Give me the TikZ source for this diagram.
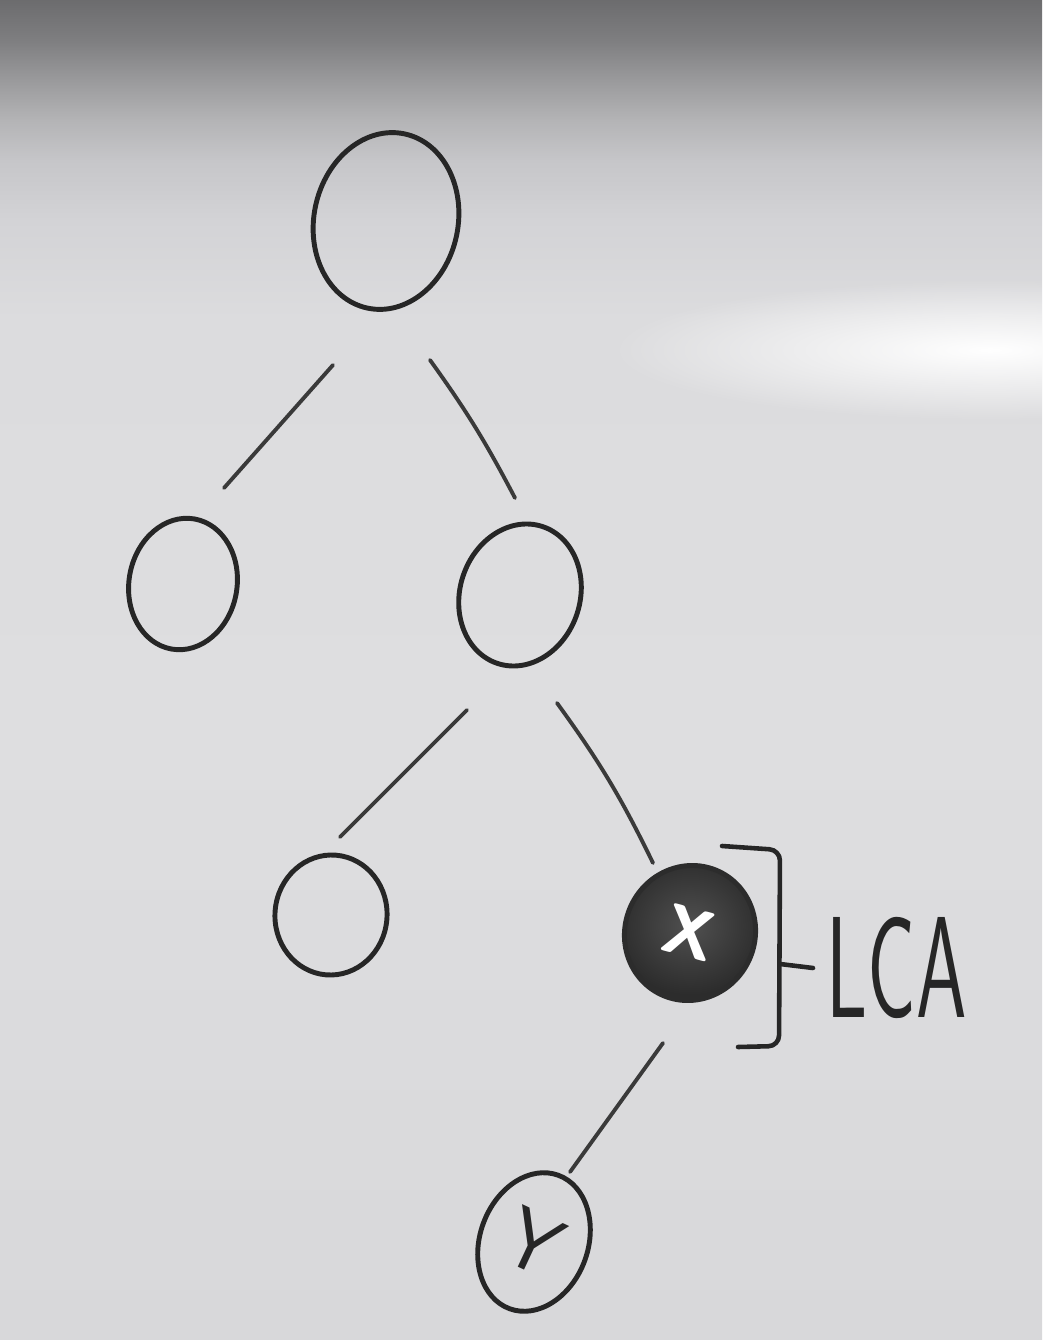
\documentclass[tikz,border=0pt]{standalone}
\usepackage{fontspec}
\usetikzlibrary{shapes.geometric,calc,fadings}
\definecolor{ink}{HTML}{262626}
\definecolor{inkl}{HTML}{3A3A3A}
\definecolor{g0}{HTML}{6C6C6E}
\definecolor{g1}{HTML}{7E7E80}
\definecolor{g2}{HTML}{9A9A9C}
\definecolor{g3}{HTML}{B4B4B6}
\definecolor{g4}{HTML}{C6C6C9}
\definecolor{g5}{HTML}{D3D3D6}
\definecolor{g6}{HTML}{DCDCDE}
\definecolor{g7}{HTML}{DEDEE0}
\definecolor{g8}{HTML}{D8D8DA}
\definecolor{xin}{HTML}{505050}
\definecolor{xout}{HTML}{2C2C2C}
\pgfdeclareverticalshading{boardshade}{100bp}{%
  color(0bp)=(g8); color(25bp)=(g8); color(47.4bp)=(g7); color(63.1bp)=(g6); color(66.8bp)=(g5);
  color(69.0bp)=(g4); color(70.5bp)=(g3); color(72.0bp)=(g2); color(73.5bp)=(g1); color(75bp)=(g0); color(100bp)=(g0)}
\tikzfading[name=glow, inner color=transparent!0, outer color=transparent!100]
\begin{document}
\begin{tikzpicture}[x=0.01cm,y=-0.01cm,
  vtx/.style={draw=ink, ellipse, line width=1.4pt, inner sep=0pt},
  edge/.style={draw=inkl, line width=1.1pt, line cap=round},
  brk/.style={draw=ink, line width=1.3pt, line cap=round, line join=round}]
\useasboundingbox (0,0) rectangle (1042,1340);
\begin{scope}
  \clip (0,0) rectangle (1042,1340);
  \shade[shading=boardshade] (0,0) rectangle (1042,1340);
  \fill[white, path fading=glow] (990,350) ellipse (380 and 70);
\end{scope}

% nodes
\node[vtx, minimum width=1.44cm, minimum height=1.78cm, rotate=-12] (root) at (386,221) {};
\node[vtx, minimum width=1.08cm, minimum height=1.32cm, rotate=-10] (l) at (183,584) {};
\node[vtx, minimum width=1.20cm, minimum height=1.44cm, rotate=-18] (r) at (520,595) {};
\node[vtx, minimum width=1.12cm, minimum height=1.20cm, rotate=-5] (rl) at (331,915) {};
\node[vtx, draw=xout, inner color=xin, outer color=xout, minimum width=1.30cm, minimum height=1.36cm, rotate=-25,
      text=white, font=\sffamily\bfseries\fontsize{20}{20}\selectfont] (x) at (690,933) {\rotatebox{10}{X}};
\node[vtx, minimum width=1.08cm, minimum height=1.42cm, rotate=-20,
      text=ink, font=\sffamily\fontsize{24}{24}\selectfont] (y) at (534,1242) {\rotatebox{-5}{Y}};

% edges
\draw[edge] ([shift={(-53,144)}]root.center) -- ([shift={(41,-96)}]l.center);
\draw[edge] ([shift={(44,139)}]root.center) to[bend left=4] ([shift={(-5,-97)}]r.center);
\draw[edge] ([shift={(-53,115)}]r.center) -- ([shift={(9,-78)}]rl.center);
\draw[edge] ([shift={(37,108)}]r.center) to[bend left=5] ([shift={(-37,-70)}]x.center);
\draw[edge] ([shift={(-27,110)}]x.center) -- ([shift={(36,-70)}]y.center);

% LCA annotation
\node[anchor=west, inner sep=0pt, xscale=0.56, text=ink,
      font=\sffamily\fontsize{41}{41}\selectfont] (lca) at (826,968) {LCA};
\coordinate (b1) at (722,846);
\coordinate (b2) at (780,850);
\coordinate (b3) at (779,1046);
\coordinate (b4) at (738,1047);
\coordinate (bm) at (780,964);
\draw[brk, rounded corners=3pt] (b1) -- (b2) -- (b3) -- (b4);
\draw[brk] (bm) -- ([xshift=-0.13cm]lca.west);
\end{tikzpicture}
\end{document}
